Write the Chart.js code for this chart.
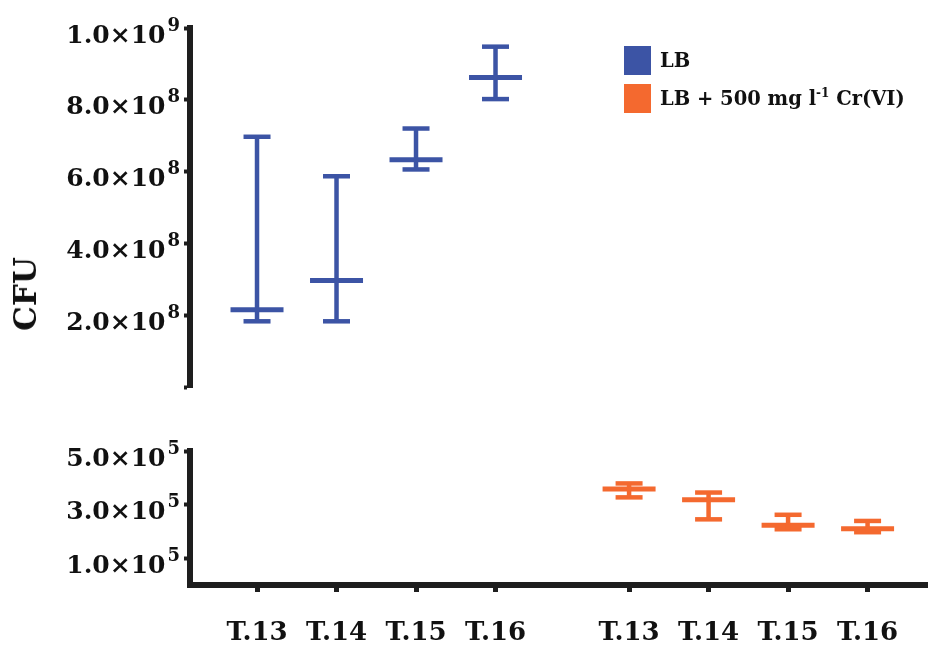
<!DOCTYPE html>
<html>
<head>
<meta charset="utf-8">
<script src="https://cdn.jsdelivr.net/npm/chart.js@4/dist/chart.umd.min.js"></script>
<style>
  html, body { margin: 0; padding: 0; background: #fff; }
  #wrap { position: relative; width: 928px; height: 648px; overflow: hidden; font-family: "DejaVu Serif", serif; }
  #top { position: absolute; left: 0; top: 0; }
  #bot { position: absolute; left: 0; top: 400px; }
  #ylab { position: absolute; left: 25px; top: 294px; transform: translate(-50%, -50%) rotate(-90deg); font-weight: bold; font-size: 31px; color: #111; white-space: nowrap; }
  .leg { position: absolute; left: 624px; display: flex; align-items: center; font-weight: bold; font-size: 19.5px; color: #111; white-space: nowrap; }
  .sw { width: 27px; height: 29px; margin-right: 9px; }
  sup { font-size: 12px; vertical-align: 8px; line-height: 0; }
</style>
</head>
<body>
<div id="wrap">
  <canvas id="top" width="928" height="400"></canvas>
  <canvas id="bot" width="928" height="248"></canvas>
  <div id="ylab">CFU</div>
  <div class="leg" style="top:46px"><div class="sw" style="background:#3c54a5"></div><span>LB</span></div>
  <div class="leg" style="top:84px"><div class="sw" style="background:#f4692f"></div><span>LB + 500 mg l<sup>-1</sup> Cr(VI)</span></div>
</div>
<script>
// ---- data ----
const categories = ['T.13', 'T.14', 'T.15', 'T.16'];
const lbMean = [2.15e8, 2.97e8, 6.33e8, 8.62e8];
const lbLow  = [1.83e8, 1.83e8, 6.06e8, 8.02e8];
const lbHigh = [6.97e8, 5.87e8, 7.20e8, 9.48e8];
const crMean = [3.58e5, 3.18e5, 2.23e5, 2.10e5];
const crLow  = [3.27e5, 2.45e5, 2.08e5, 1.97e5];
const crHigh = [3.79e5, 3.45e5, 2.62e5, 2.39e5];
const topTickValues   = [0, 2e8, 4e8, 6e8, 8e8, 1e9];
const topTickMantissa = ['', '2.0', '4.0', '6.0', '8.0', '1.0'];
const topTickExponent = ['', '8', '8', '8', '8', '9'];
const botTickValues   = [1e5, 3e5, 5e5];
const botTickMantissa = ['1.0', '3.0', '5.0'];
const botTickExponent = ['5', '5', '5'];

// ---- layout helpers ----
const BLUE = '#3c54a5', ORANGE = '#f4692f', AX = '#1e1e1e';
const GROUP_GAP = 0.68;
const xLB = categories.map((c, i) => i + 1);
const xCR = categories.map((c, i) => i + 1 + categories.length + GROUP_GAP);
const allX = xLB.concat(xCR);
const allXLabels = categories.concat(categories);
const XMIN = 0.157, XMAX = 9.44;
const FAMILY = '"DejaVu Serif", serif';

function errDatasets(xs, mean, low, high, color) {
  const whisk = [];
  xs.forEach((x, i) => { whisk.push({x, y: low[i]}, {x, y: high[i]}, {x, y: null}); });
  const caps = [];
  xs.forEach((x, i) => { caps.push({x, y: low[i]}, {x, y: high[i]}); });
  const means = xs.map((x, i) => ({x, y: mean[i]}));
  return [
    { type: 'line', data: whisk, borderColor: color, borderWidth: 4.5, pointRadius: 0, spanGaps: false, fill: false, borderCapStyle: 'butt' },
    { type: 'scatter', data: caps, pointStyle: 'line', pointRadius: 13.5, borderWidth: 4.5, borderColor: color, backgroundColor: color, pointHoverRadius: 13.5 },
    { type: 'scatter', data: means, pointStyle: 'line', pointRadius: 26.5, borderWidth: 5, borderColor: color, backgroundColor: color, pointHoverRadius: 26.5 }
  ];
}

// y tick labels in scientific notation with a raised exponent, placed by the y scale
const sciLabels = {
  id: 'sciLabels',
  afterDraw(chart, args, opts) {
    const s = chart.scales.y, ctx = chart.ctx;
    ctx.save();
    ctx.fillStyle = '#111';
    ctx.textBaseline = 'alphabetic';
    ctx.textAlign = 'left';
    opts.values.forEach((v, i) => {
      const m = opts.mantissa[i], e = opts.exponent[i];
      if (!m) return;
      const y = s.getPixelForValue(v);
      const right = s.right - 10;
      ctx.font = 'bold 18px ' + FAMILY;
      const ew = ctx.measureText(e).width;
      ctx.font = 'bold 25px ' + FAMILY;
      const main = m + '×10';
      const mw = ctx.measureText(main).width;
      const x0 = right - ew - 2 - mw;
      ctx.fillText(main, x0, y + 14.5);
      ctx.font = 'bold 18px ' + FAMILY;
      ctx.fillText(e, right - ew, y + 2.5);
    });
    ctx.restore();
  }
};

function yScale(min, max, vals) {
  return {
    type: 'linear', min, max,
    afterFit: s => { s.width = 190; },
    afterBuildTicks: s => { s.ticks = vals.map(v => ({ value: v })); },
    ticks: { display: false },
    grid: { drawOnChartArea: false, drawTicks: true, tickLength: 6, tickWidth: 4, tickColor: AX },
    border: { display: true, color: AX, width: 6 }
  };
}

// ---- top chart (LB) ----
new Chart(document.getElementById('top'), {
  type: 'scatter',
  data: { datasets: errDatasets(xLB, lbMean, lbLow, lbHigh, BLUE) },
  plugins: [sciLabels],
  options: {
    responsive: false, animation: false, events: [],
    layout: { autoPadding: false, padding: { top: 28, bottom: 13, left: 0, right: 0 } },
    plugins: {
      legend: { display: false }, tooltip: { enabled: false },
      sciLabels: { values: topTickValues, mantissa: topTickMantissa, exponent: topTickExponent }
    },
    scales: {
      x: { type: 'linear', min: XMIN, max: XMAX, display: false },
      y: yScale(0, 1e9, topTickValues)
    }
  }
});

// ---- bottom chart (LB + Cr) ----
new Chart(document.getElementById('bot'), {
  type: 'scatter',
  data: { datasets: errDatasets(xCR, crMean, crLow, crHigh, ORANGE) },
  plugins: [sciLabels],
  options: {
    responsive: false, animation: false, events: [],
    layout: { autoPadding: false, padding: { top: 51, bottom: 0, left: 0, right: 0 } },
    plugins: {
      legend: { display: false }, tooltip: { enabled: false },
      sciLabels: { values: botTickValues, mantissa: botTickMantissa, exponent: botTickExponent }
    },
    scales: {
      x: {
        type: 'linear', min: XMIN, max: XMAX,
        afterFit: s => { s.height = 63; },
        afterBuildTicks: s => { s.ticks = allX.map(v => ({ value: v })); },
        ticks: { callback: (v) => allXLabels[allX.indexOf(v)], font: { family: FAMILY, weight: 'bold', size: 26 }, color: '#111', padding: 26, maxRotation: 0, autoSkip: false },
        grid: { drawOnChartArea: false, drawTicks: true, tickLength: 7, tickWidth: 5, tickColor: AX },
        border: { display: true, color: AX, width: 6 }
      },
      y: yScale(0, 5e5, botTickValues)
    }
  }
});
</script>
</body>
</html>
